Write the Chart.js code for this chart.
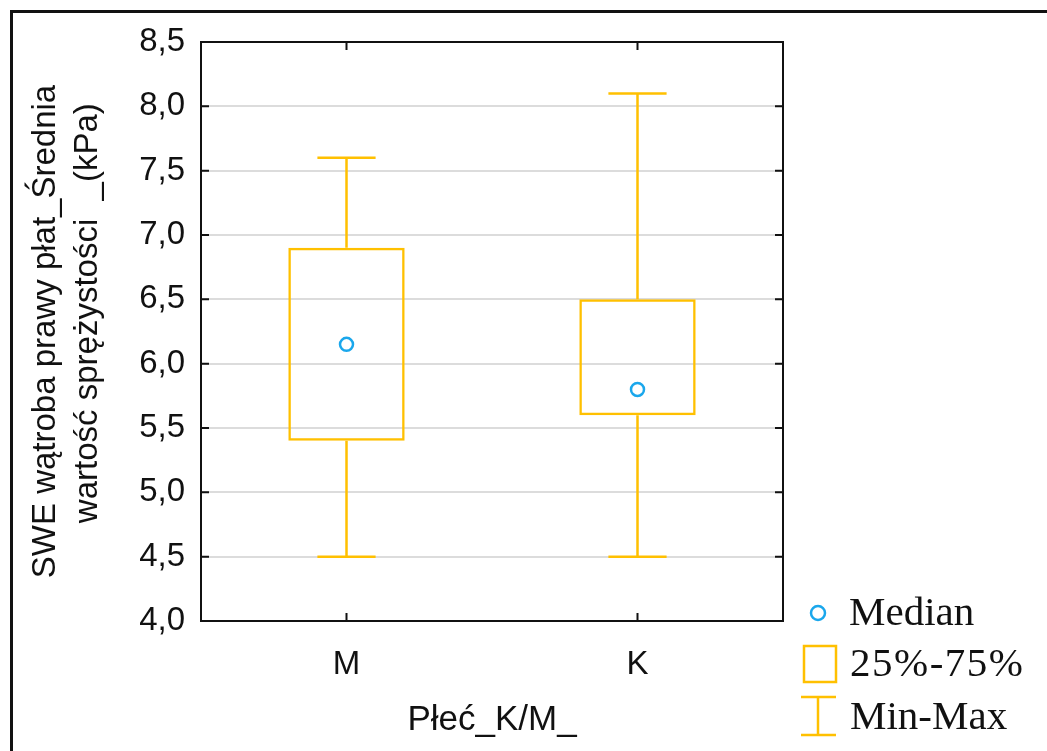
<!DOCTYPE html>
<html>
<head>
<meta charset="utf-8">
<script src="https://cdn.jsdelivr.net/npm/chart.js@4.4.1/dist/chart.umd.min.js"></script>
<style>
  html, body { margin: 0; padding: 0; background: #fff; }
  #wrap { position: relative; width: 1047px; height: 751px; overflow: hidden; }
  #frame {
    position: absolute; left: 10px; top: 10px; width: 1100px; height: 800px;
    border-left: 3px solid #111; border-top: 3px solid #111;
    box-shadow: -1px -1px 0 #999 inset;
  }
  #chart { position: absolute; left: 0; top: 0; }
  .lg { position: absolute; font-family: 'Liberation Serif', 'Times New Roman', serif;
        font-size: 41px; color: #111; line-height: 1; white-space: nowrap; }
</style>
</head>
<body>
<div id="wrap">
  <div id="frame"></div>
  <canvas id="chart" width="1047" height="751"></canvas>
  <div class="lg" style="left:849px; top:591px;">Median</div>
  <div class="lg" style="left:850px; top:642px; letter-spacing:1.5px;">25%-75%</div>
  <div class="lg" style="left:850px; top:695px;">Min-Max</div>
  <svg style="position:absolute; left:795px; top:590px;" width="50" height="150">
    <circle cx="23" cy="23" r="7" fill="none" stroke="#1AA7EC" stroke-width="2.5"/>
    <rect x="9" y="56" width="32" height="36" fill="none" stroke="#FFC000" stroke-width="2.5"/>
    <line x1="6" y1="107" x2="41" y2="107" stroke="#FFC000" stroke-width="2.5"/>
    <line x1="23" y1="107" x2="23" y2="145" stroke="#FFC000" stroke-width="2.5"/>
    <line x1="6" y1="145" x2="41" y2="145" stroke="#FFC000" stroke-width="2.5"/>
  </svg>
</div>
<script>
// Data
const categories = ['M', 'K'];
const minVals    = [4.5, 4.5];
const q1Vals     = [5.4, 5.6];
const medianVals = [6.15, 5.8];
const q3Vals     = [6.9, 6.5];
const maxVals    = [7.6, 8.1];
const yTitle     = ['SWE wątroba prawy płat_Średnia', '    wartość sprężystości  _(kPa)'];
const xTitle     = 'Płeć_K/M_';

const C = {
  box:    '#FFC000',
  median: '#1AA7EC',
  grid:   '#dcdcdc',
  axis:   '#111111',
  text:   '#111111',
};

const FONT = "'Liberation Sans', Arial, sans-serif";

// whiskers, plot frame and inward tick marks
const boxPlugin = {
  id: 'boxExtras',
  afterDatasetsDraw(chart) {
    const { ctx, chartArea: a, scales: { x, y } } = chart;
    const meta = chart.getDatasetMeta(0);
    ctx.save();
    ctx.strokeStyle = C.box;
    ctx.lineWidth = 2.5;
    meta.data.forEach((bar, i) => {
      const cx = bar.x;
      const half = bar.width / 4;
      const yMin = y.getPixelForValue(minVals[i]);
      const yMax = y.getPixelForValue(maxVals[i]);
      const yQ1  = y.getPixelForValue(q1Vals[i]);
      const yQ3  = y.getPixelForValue(q3Vals[i]);
      ctx.beginPath();
      ctx.moveTo(cx, yQ3); ctx.lineTo(cx, yMax);
      ctx.moveTo(cx - half, yMax); ctx.lineTo(cx + half, yMax);
      ctx.moveTo(cx, yQ1); ctx.lineTo(cx, yMin);
      ctx.moveTo(cx - half, yMin); ctx.lineTo(cx + half, yMin);
      ctx.stroke();
    });

    // frame
    ctx.strokeStyle = C.axis;
    ctx.lineWidth = 2;
    ctx.strokeRect(a.left, a.top, a.right - a.left, a.bottom - a.top);

    // inward ticks
    ctx.beginPath();
    y.ticks.forEach(t => {
      const py = y.getPixelForValue(t.value);
      ctx.moveTo(a.left, py);  ctx.lineTo(a.left + 8, py);
      ctx.moveTo(a.right, py); ctx.lineTo(a.right - 8, py);
    });
    categories.forEach((c, i) => {
      const px = x.getPixelForValue(i);
      ctx.moveTo(px, a.top);    ctx.lineTo(px, a.top + 8);
      ctx.moveTo(px, a.bottom); ctx.lineTo(px, a.bottom - 8);
    });
    ctx.stroke();
    ctx.restore();
  },
};

new Chart(document.getElementById('chart'), {
  data: {
    labels: categories,
    datasets: [
      {
        type: 'bar',
        label: '25%-75%',
        data: q1Vals.map((q, i) => [q, q3Vals[i]]),
        backgroundColor: 'rgba(255,255,255,0)',
        borderColor: C.box,
        borderWidth: 2.5,
        borderSkipped: false,
        barPercentage: 0.4,
        categoryPercentage: 1,
        order: 2,
      },
      {
        type: 'line',
        label: 'Median',
        data: medianVals,
        showLine: false,
        pointStyle: 'circle',
        pointRadius: 6.5,
        pointBorderWidth: 2.5,
        pointBorderColor: C.median,
        pointBackgroundColor: '#fff',
        order: 1,
      },
    ],
  },
  options: {
    responsive: false,
    animation: false,
    layout: { padding: { left: 0, top: 42, right: 264, bottom: 0 } },
    plugins: { legend: { display: false }, tooltip: { enabled: false } },
    scales: {
      x: {
        type: 'category',
        offset: true,
        grid: { display: false, drawTicks: false },
        border: { display: false },
        ticks: { color: C.text, font: { family: FONT, size: 33 }, padding: 24 },
        title: {
          display: true, text: xTitle, color: C.text,
          font: { family: FONT, size: 35 }, padding: { top: 0, bottom: 10 },
        },
        afterFit(s) { s.height = 130; },
      },
      y: {
        min: 4, max: 8.5,
        grid: { color: C.grid, lineWidth: 2, drawTicks: false },
        border: { display: false },
        ticks: {
          stepSize: 0.5, color: C.text, padding: 16,
          font: { family: FONT, size: 33 },
          callback: v => v.toFixed(1).replace('.', ','),
        },
        title: {
          display: true, text: yTitle, color: C.text,
          font: { family: FONT, size: 33, lineHeight: 1.3 }, padding: { top: 24, bottom: 0 },
        },
        afterFit(s) { s.width = 201; },
      },
    },
  },
  plugins: [boxPlugin],
});
</script>
</body>
</html>
